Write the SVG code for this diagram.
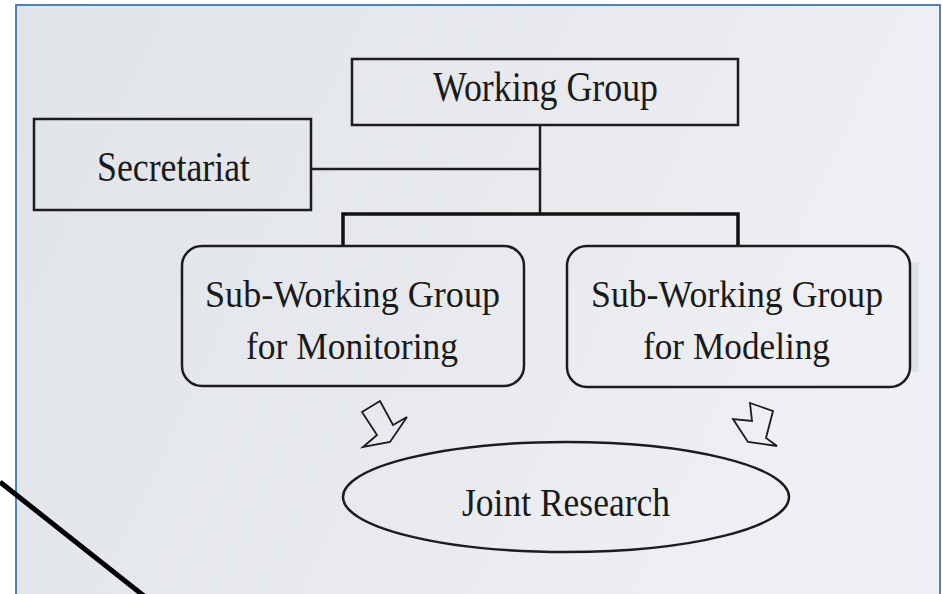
<svg xmlns="http://www.w3.org/2000/svg" width="942" height="594" viewBox="0 0 942 594">
  <defs>
    <linearGradient id="bg" x1="0" y1="0" x2="1" y2="0.3">
      <stop offset="0" stop-color="#e0e3e8"/>
      <stop offset="0.6" stop-color="#e8eaee"/>
      <stop offset="1" stop-color="#eef0f3"/>
    </linearGradient>
  </defs>
  <style>
    .box { fill: none; stroke: #1c1c1c; stroke-width: 2.5; }
    .lbl { font-family: "Liberation Serif", "Times New Roman", serif; fill: #1a1a1a; }
    .con { fill: none; stroke: #1c1c1c; stroke-width: 2.5; }
    .bus { fill: none; stroke: #111; stroke-width: 3.5; }
    .arr { fill: none; stroke: #1c1c1c; stroke-width: 1.8; stroke-linejoin: miter; }
  </style>
  <rect x="0" y="0" width="942" height="594" fill="#ffffff"/>
  <rect x="16" y="5" width="924" height="600" fill="url(#bg)" stroke="#4f81bd" stroke-width="2"/>
  <rect x="910" y="262" width="9" height="110" fill="#d9dbdf" opacity="0.7"/>

  <g id="connectors">
    <path class="con" d="M540,125 V214"/>
    <path class="con" d="M311,169 H540"/>
    <path class="bus" d="M343,246 V214 H738 V246"/>
    <polygon class="arr" points="362,412 380,401 393,425 407,417 390,442 363,447 377,435"/>
    <polygon class="arr" points="750,403 773,411 766,438 777,446 748,442 733,419 752,421"/>
  </g>

  <g id="working-group">
    <rect class="box" x="352" y="59" width="386" height="66"/>
    <text class="lbl" x="433" y="101" font-size="43" textLength="225" lengthAdjust="spacingAndGlyphs">Working Group</text>
  </g>

  <g id="secretariat">
    <rect class="box" x="34" y="119" width="277" height="91"/>
    <text class="lbl" x="97" y="181" font-size="42" textLength="153" lengthAdjust="spacingAndGlyphs">Secretariat</text>
  </g>

  <g id="sub-monitoring">
    <rect class="box" x="182" y="246" width="342" height="140" rx="20" ry="20"/>
    <text class="lbl" x="205" y="307" font-size="38" textLength="295" lengthAdjust="spacingAndGlyphs">Sub-Working Group</text>
    <text class="lbl" x="246" y="359" font-size="38" textLength="212" lengthAdjust="spacingAndGlyphs">for Monitoring</text>
  </g>

  <g id="sub-modeling">
    <rect class="box" x="567" y="246" width="343" height="141" rx="20" ry="20"/>
    <text class="lbl" x="591" y="307" font-size="38" textLength="292" lengthAdjust="spacingAndGlyphs">Sub-Working Group</text>
    <text class="lbl" x="643" y="359" font-size="38" textLength="187" lengthAdjust="spacingAndGlyphs">for Modeling</text>
  </g>

  <g id="joint-research">
    <ellipse class="box" cx="566" cy="497" rx="223" ry="55" stroke-width="2"/>
    <text class="lbl" x="462" y="516" font-size="40" textLength="208" lengthAdjust="spacingAndGlyphs">Joint Research</text>
  </g>

  <line x1="0" y1="482" x2="144" y2="596" stroke="#000" stroke-width="5"/>
</svg>
